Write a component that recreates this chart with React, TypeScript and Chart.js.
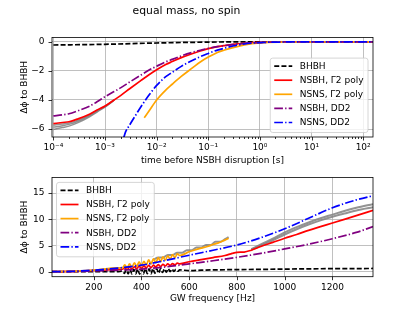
import React, { useEffect, useRef } from 'react';
import { Chart, registerables } from 'chart.js';

Chart.register(...registerables);

const FONT = '"DejaVu Sans", sans-serif';

// ---------- text ----------
const TOP_TITLE = 'equal mass, no spin';
const TOP_X_TITLE = 'time before NSBH disruption [s]';
const BOTTOM_X_TITLE = 'GW frequency [Hz]';
const Y_TITLE = 'Δϕ to BHBH';
const LABELS = ['BHBH', 'NSBH, Γ2 poly', 'NSNS, Γ2 poly', 'NSBH, DD2', 'NSNS, DD2'];
const COLORS = ['#000000', '#ff0000', '#ffa500', '#800080', '#0000ff'];
const GRAY = 'rgba(128,128,128,0.85)';

// ---------- top panel axes ----------
const TOP_X_MIN = 9.4e-5;
const TOP_X_MAX = 155;
const TOP_Y_MIN = -6.55;
const TOP_Y_MAX = 0.3;
const TOP_X_TICKS = [1e-4, 1e-3, 1e-2, 1e-1, 1, 10, 100];
const TOP_X_TICK_LABELS = ['10⁻⁴', '10⁻³', '10⁻²', '10⁻¹', '10⁰', '10¹', '10²'];
const TOP_X_MINOR = [
  2e-4, 3e-4, 4e-4, 5e-4, 6e-4, 7e-4, 8e-4, 9e-4,
  2e-3, 3e-3, 4e-3, 5e-3, 6e-3, 7e-3, 8e-3, 9e-3,
  2e-2, 3e-2, 4e-2, 5e-2, 6e-2, 7e-2, 8e-2, 9e-2,
  0.2, 0.3, 0.4, 0.5, 0.6, 0.7, 0.8, 0.9,
  2, 3, 4, 5, 6, 7, 8, 9,
  20, 30, 40, 50, 60, 70, 80, 90,
];
const TOP_Y_TICKS = [0, -2, -4, -6];

// ---------- top panel data ----------
const T_BHBH = [1e-4, 1e-3, 1e-2, 0.1, 1, 10, 160];
const TOP_BHBH = [-0.22, -0.17, -0.08, -0.02, 0, 0, 0];

const T_MAIN = [1e-4, 1.5e-4, 2e-4, 3e-4, 5e-4, 7e-4, 1e-3, 1.5e-3, 2e-3, 3e-3, 5e-3, 7e-3, 1e-2, 1.5e-2, 2e-2, 3e-2, 5e-2, 7e-2, 0.1, 0.15, 0.2, 0.3, 0.5, 1, 3, 10, 160];
const TOP_NSBH_POLY = [-5.63, -5.55, -5.5, -5.3, -4.98, -4.7, -4.42, -4.0, -3.7, -3.23, -2.65, -2.28, -1.92, -1.56, -1.36, -1.09, -0.8, -0.63, -0.47, -0.33, -0.26, -0.17, -0.1, -0.04, -0.01, 0, 0];
const TOP_NSBH_DD2 = [-5.1, -5.02, -4.95, -4.74, -4.43, -4.13, -3.78, -3.42, -3.17, -2.77, -2.28, -1.96, -1.68, -1.38, -1.21, -0.97, -0.72, -0.58, -0.45, -0.33, -0.27, -0.19, -0.11, -0.05, -0.01, 0, 0];

const T_NSNS_POLY = [5.75e-3, 7e-3, 1e-2, 1.5e-2, 2e-2, 3e-2, 5e-2, 7e-2, 0.1, 0.15, 0.2, 0.3, 0.5, 1, 3, 10, 160];
const TOP_NSNS_POLY = [-5.23, -4.8, -4.0, -3.32, -2.92, -2.38, -1.78, -1.39, -1.05, -0.73, -0.58, -0.4, -0.21, -0.07, -0.02, 0, 0];

const T_NSNS_DD2 = [2.3e-3, 2.5e-3, 3e-3, 4e-3, 5e-3, 7e-3, 1e-2, 1.5e-2, 2e-2, 3e-2, 5e-2, 7e-2, 0.1, 0.15, 0.2, 0.3, 0.5, 1, 3, 10, 160];
const TOP_NSNS_DD2 = [-6.6, -6.2, -5.72, -5.0, -4.45, -3.7, -3.0, -2.4, -2.1, -1.69, -1.27, -1.02, -0.8, -0.57, -0.45, -0.29, -0.15, -0.05, -0.01, 0, 0];

const T_GRAY = [1e-4, 1.5e-4, 2e-4, 3e-4, 5e-4, 7e-4, 1e-3, 1.5e-3];
const TOP_GRAY_1 = [-5.74, -5.66, -5.59, -5.39, -5.04, -4.74, -4.44, -4.0];
const TOP_GRAY_2 = [-5.87, -5.77, -5.68, -5.47, -5.09, -4.78, -4.46, -4.01];
const TOP_GRAY_3 = [-6.03, -5.9, -5.8, -5.56, -5.16, -4.83, -4.49, -4.02];

// ---------- bottom panel axes ----------
const BOT_X_MIN = 25;
const BOT_X_MAX = 1370;
const BOT_Y_MIN = -0.95;
const BOT_Y_MAX = 18;
const BOT_X_TICKS = [200, 400, 600, 800, 1000, 1200];
const BOT_Y_TICKS = [0, 5, 10, 15];

// ---------- bottom panel data ----------
const F_BHBH = [25, 100, 200, 300,
  320, 328, 336, 344, 352, 360, 368, 376, 384, 392, 400, 408, 416, 424, 432, 440,
  448, 456, 464, 472, 480, 488, 496, 504, 512, 520, 528, 536, 544, 552, 560,
  600, 650, 700, 800, 900, 1000, 1100, 1200, 1300, 1370];
const BOT_BHBH = [0, 0, 0, 0.02,
  0.1, -0.3, 0.35, -0.4, 0.4, -0.45, 0.45, -0.4, 0.5, -0.45, 0.55, -0.4, 0.6, -0.35, 0.55, -0.4,
  0.6, -0.3, 0.55, -0.3, 0.6, -0.15, 0.55, -0.1, 0.6, 0.0, 0.5, 0.05, 0.45, 0.1, 0.35,
  0.2, 0.3, 0.35, 0.4, 0.45, 0.5, 0.55, 0.58, 0.6, 0.62];

const F_NSBH_POLY = [25, 100, 200, 300,
  320, 330, 340, 350, 360, 370, 380, 390, 400, 410, 420, 430, 440, 450, 460, 470, 480, 490, 500, 510, 520, 530, 540, 550, 560,
  600, 650, 700, 750, 780, 800, 830, 860, 900, 950, 1000, 1050, 1100, 1150, 1200, 1250, 1300, 1370];
const BOT_NSBH_POLY = [0, 0.05, 0.25, 0.45,
  0.5, 0.8, 0.45, 0.9, 0.55, 0.95, 0.6, 1.05, 0.65, 1.1, 0.75, 1.2, 0.8, 1.25, 0.9, 1.35, 1.0, 1.4, 1.1, 1.5, 1.2, 1.55, 1.3, 1.65, 1.5,
  1.9, 2.3, 2.7, 3.1, 3.5, 3.7, 3.75, 4.1, 4.8, 5.6, 6.4, 7.1, 7.9, 8.6, 9.3, 10.0, 10.7, 11.7];

const F_NSNS_POLY = [25, 100, 200, 300,
  320, 330, 340, 350, 360, 370, 380, 390, 400, 410, 420, 430, 440, 450, 460, 470, 480, 490, 500, 510, 520, 530, 540, 550, 560,
  600, 620, 650, 680, 700, 720, 740, 765];
const BOT_NSNS_POLY = [0, 0.05, 0.3, 0.75,
  0.7, 1.3, 0.75, 1.5, 0.85, 1.7, 1.0, 1.9, 1.1, 2.0, 1.3, 2.25, 1.5, 2.45, 1.7, 2.7, 1.9, 2.85, 2.2, 3.05, 2.4, 3.25, 2.7, 3.4, 3.1,
  3.8, 4.1, 4.5, 4.85, 5.2, 5.45, 5.85, 6.4];

const F_SMOOTH = [25, 100, 200, 300, 400, 500, 600, 700, 800, 900, 1000, 1100, 1200, 1300, 1370];
const BOT_NSBH_DD2 = [0, 0.03, 0.15, 0.3, 0.5, 0.9, 1.5, 2.1, 2.75, 3.5, 4.35, 5.25, 6.3, 7.5, 8.6];
const BOT_NSNS_DD2 = [0, 0.05, 0.3, 0.7, 1.25, 2.15, 3.15, 4.1, 5.1, 6.5, 8.2, 10.2, 12.2, 13.7, 14.5];

const F_GRAY_LOW = [450, 470, 490, 510, 530, 550, 570, 590, 610, 630, 650, 670, 690, 710, 730, 750, 765];
const BOT_GRAY_LOW = [2.3, 2.7, 2.7, 3.2, 3.2, 3.6, 3.6, 4.1, 4.1, 4.6, 4.6, 5.1, 5.1, 5.7, 5.7, 6.2, 6.6];
const F_GRAY_HIGH = [860, 900, 950, 1000, 1050, 1100, 1150, 1200, 1250, 1300, 1370];
const BOT_GRAY_HIGH_1 = [4.3, 5.2, 6.3, 7.5, 8.5, 9.4, 10.2, 10.9, 11.6, 12.2, 12.9];
const BOT_GRAY_HIGH_2 = [4.2, 5.0, 6.0, 7.1, 8.1, 9.0, 9.8, 10.5, 11.1, 11.7, 12.3];

// ---------- helpers ----------
const DASHED = [5, 2.2];
const DASHDOT = [8.7, 2.2, 1.35, 2.2];
const STYLES = [DASHED, [], [], DASHDOT, DASHDOT];
const LINE_W = 1.7;

function pts(xs: number[], ys: number[]) {
  return xs.map((x, i) => ({ x, y: ys[i] }));
}

function series(idx: number, xs: number[], ys: number[], order: number) {
  return {
    label: LABELS[idx],
    data: pts(xs, ys),
    borderColor: COLORS[idx],
    backgroundColor: COLORS[idx],
    borderWidth: LINE_W,
    borderDash: STYLES[idx],
    borderCapStyle: 'butt',
    borderJoinStyle: 'round',
    pointRadius: 0,
    pointHoverRadius: 0,
    fill: false,
    cubicInterpolationMode: 'monotone',
    order,
  };
}

function grayLine(name: string, xs: number[], ys: number[], width: number) {
  return {
    label: name,
    data: pts(xs, ys),
    borderColor: GRAY,
    borderWidth: width,
    pointRadius: 0,
    pointHoverRadius: 0,
    fill: false,
    cubicInterpolationMode: 'monotone',
    order: 10,
  };
}

function fmtNum(v: number) {
  return v < 0 ? '−' + String(Math.abs(v)) : String(v);
}

const tickFont = { family: FONT, size: 9 };

const mplPlugin = {
  id: 'mplFrame',
  afterDatasetsDraw(chart: any, _args: any, opts: any) {
    const { ctx, chartArea: a } = chart;
    const xs = chart.scales.x;
    const ys = chart.scales.y;
    ctx.save();
    ctx.strokeStyle = '#000';
    ctx.lineWidth = 0.8;
    ctx.setLineDash([]);
    ctx.beginPath();
    (opts.xMajor || []).forEach((v: number) => {
      const p = Math.round(xs.getPixelForValue(v)) + 0.5;
      ctx.moveTo(p, a.bottom);
      ctx.lineTo(p, a.bottom + 3.5);
    });
    (opts.xMinor || []).forEach((v: number) => {
      const p = Math.round(xs.getPixelForValue(v)) + 0.5;
      ctx.moveTo(p, a.bottom);
      ctx.lineTo(p, a.bottom + 2);
    });
    (opts.yMajor || []).forEach((v: number) => {
      const p = Math.round(ys.getPixelForValue(v)) + 0.5;
      ctx.moveTo(a.left, p);
      ctx.lineTo(a.left - 3.5, p);
    });
    ctx.stroke();
    ctx.strokeRect(a.left, a.top, a.right - a.left, a.bottom - a.top);

    // legend
    const items = chart.data.datasets.filter((d: any) => !String(d.label).startsWith('_'));
    items.sort((p: any, q: any) => LABELS.indexOf(p.label) - LABELS.indexOf(q.label));
    ctx.font = `9px ${FONT}`;
    const textW = Math.max(...items.map((d: any) => ctx.measureText(d.label).width));
    const padL = 4, handleLen = 18, gap = 7.5, padR = 4.5, padT = 8, spacing = 14.1, padB = 10;
    const w = padL + handleLen + gap + textW + padR;
    const h = padT + spacing * (items.length - 1) + padB;
    let x0: number, y0: number;
    if (opts.legend === 'lr') {
      x0 = a.right - 5 - w;
      y0 = a.bottom - 4.5 - h;
    } else {
      x0 = a.left + 4.5;
      y0 = a.top + 5;
    }
    ctx.beginPath();
    if (ctx.roundRect) ctx.roundRect(x0, y0, w, h, 2.5);
    else ctx.rect(x0, y0, w, h);
    ctx.fillStyle = 'rgba(255,255,255,0.8)';
    ctx.fill();
    ctx.strokeStyle = '#cccccc';
    ctx.lineWidth = 0.8;
    ctx.stroke();
    items.forEach((d: any, i: number) => {
      const y = y0 + padT + i * spacing;
      ctx.beginPath();
      ctx.strokeStyle = d.borderColor;
      ctx.lineWidth = d.borderWidth;
      ctx.lineCap = 'butt';
      ctx.setLineDash(d.borderDash || []);
      ctx.moveTo(x0 + padL, y);
      ctx.lineTo(x0 + padL + handleLen, y);
      ctx.stroke();
      ctx.setLineDash([]);
      ctx.fillStyle = '#000';
      ctx.textBaseline = 'middle';
      ctx.textAlign = 'left';
      ctx.fillText(d.label, x0 + padL + handleLen + gap, y + 0.5);
    });
    ctx.restore();
  },
};

function gridOpts() {
  return {
    color: '#b0b0b0',
    lineWidth: 0.8,
    drawTicks: true,
    tickLength: 3.5,
    tickColor: 'rgba(0,0,0,0)',
  };
}

function TopChart() {
  const ref = useRef<HTMLCanvasElement | null>(null);
  useEffect(() => {
    if (!ref.current) return;
    const chart = new Chart(ref.current, {
      type: 'line',
      data: {
        datasets: [
          grayLine('_g1', T_GRAY, TOP_GRAY_1, 1.5),
          grayLine('_g2', T_GRAY, TOP_GRAY_2, 1.5),
          grayLine('_g3', T_GRAY, TOP_GRAY_3, 1.5),
          series(0, T_BHBH, TOP_BHBH, 5),
          series(1, T_MAIN, TOP_NSBH_POLY, 4),
          series(2, T_NSNS_POLY, TOP_NSNS_POLY, 3),
          series(3, T_MAIN, TOP_NSBH_DD2, 2),
          series(4, T_NSNS_DD2, TOP_NSNS_DD2, 1),
        ] as any,
      },
      options: {
        responsive: false,
        animation: false,
        events: [],
        layout: { padding: { left: 0, right: 42, top: 0, bottom: 0 } },
        scales: {
          x: {
            type: 'logarithmic',
            min: TOP_X_MIN,
            max: TOP_X_MAX,
            afterBuildTicks: (s: any) => {
              s.ticks = TOP_X_TICKS.map((v) => ({ value: v, major: true }));
            },
            afterFit: (s: any) => {
              s.height = 31;
            },
            ticks: {
              autoSkip: false,
              maxRotation: 0,
              minRotation: 0,
              padding: 2,
              color: '#000',
              font: tickFont,
              callback: (_v: any, i: number) => TOP_X_TICK_LABELS[i],
            },
            grid: gridOpts(),
            border: { display: false },
            title: { display: true, text: TOP_X_TITLE, color: '#000', font: tickFont, padding: { top: 0, bottom: 1.9 } },
          },
          y: {
            type: 'linear',
            min: TOP_Y_MIN,
            max: TOP_Y_MAX,
            afterBuildTicks: (s: any) => {
              s.ticks = TOP_Y_TICKS.map((v) => ({ value: v }));
            },
            afterFit: (s: any) => {
              s.width = 52;
            },
            ticks: { padding: 4, color: '#000', font: tickFont, callback: (v: any) => fmtNum(Number(v)) },
            grid: gridOpts(),
            border: { display: false },
            title: { display: true, text: Y_TITLE, color: '#000', font: tickFont, padding: { top: 19.6, bottom: 0 } },
          },
        },
        plugins: {
          legend: { display: false },
          tooltip: { enabled: false },
          title: {
            display: true,
            text: TOP_TITLE,
            color: '#000',
            font: { family: FONT, size: 10.8, weight: 'normal' },
            padding: { top: 4.5, bottom: 20 },
          },
          mplFrame: { xMajor: TOP_X_TICKS, xMinor: TOP_X_MINOR, yMajor: TOP_Y_TICKS, legend: 'lr' },
        } as any,
      } as any,
      plugins: [mplPlugin],
    });
    return () => chart.destroy();
  }, []);
  return <canvas ref={ref} width={415} height={168} style={{ display: 'block', width: 415, height: 168 }} />;
}

function BottomChart() {
  const ref = useRef<HTMLCanvasElement | null>(null);
  useEffect(() => {
    if (!ref.current) return;
    const chart = new Chart(ref.current, {
      type: 'line',
      data: {
        datasets: [
          grayLine('_g1', F_GRAY_LOW, BOT_GRAY_LOW, 2),
          grayLine('_g2', F_GRAY_HIGH, BOT_GRAY_HIGH_1, 2),
          grayLine('_g3', F_GRAY_HIGH, BOT_GRAY_HIGH_2, 2),
          series(0, F_BHBH, BOT_BHBH, 5),
          series(1, F_NSBH_POLY, BOT_NSBH_POLY, 4),
          series(2, F_NSNS_POLY, BOT_NSNS_POLY, 3),
          series(3, F_SMOOTH, BOT_NSBH_DD2, 2),
          series(4, F_SMOOTH, BOT_NSNS_DD2, 1),
        ] as any,
      },
      options: {
        responsive: false,
        animation: false,
        events: [],
        layout: { padding: { left: 0, right: 42, top: 8.7, bottom: 0 } },
        scales: {
          x: {
            type: 'linear',
            min: BOT_X_MIN,
            max: BOT_X_MAX,
            afterBuildTicks: (s: any) => {
              s.ticks = BOT_X_TICKS.map((v) => ({ value: v }));
            },
            afterFit: (s: any) => {
              s.height = 34.3;
            },
            ticks: {
              autoSkip: false,
              maxRotation: 0,
              minRotation: 0,
              padding: 2,
              color: '#000',
              font: tickFont,
              callback: (v: any) => fmtNum(Number(v)),
            },
            grid: gridOpts(),
            border: { display: false },
            title: { display: true, text: BOTTOM_X_TITLE, color: '#000', font: tickFont, padding: { top: 0, bottom: 6.6 } },
          },
          y: {
            type: 'linear',
            min: BOT_Y_MIN,
            max: BOT_Y_MAX,
            afterBuildTicks: (s: any) => {
              s.ticks = BOT_Y_TICKS.map((v) => ({ value: v }));
            },
            afterFit: (s: any) => {
              s.width = 52;
            },
            ticks: { padding: 4, color: '#000', font: tickFont, callback: (v: any) => fmtNum(Number(v)) },
            grid: gridOpts(),
            border: { display: false },
            title: { display: true, text: Y_TITLE, color: '#000', font: tickFont, padding: { top: 19.6, bottom: 0 } },
          },
        },
        plugins: {
          legend: { display: false },
          tooltip: { enabled: false },
          mplFrame: { xMajor: BOT_X_TICKS, yMajor: BOT_Y_TICKS, legend: 'ul' },
        } as any,
      } as any,
      plugins: [mplPlugin],
    });
    return () => chart.destroy();
  }, []);
  return <canvas ref={ref} width={415} height={143} style={{ display: 'block', width: 415, height: 143 }} />;
}

export default function App() {
  return (
    <div style={{ position: 'absolute', left: 0, top: 0, width: 415, height: 311, background: '#fff' }}>
      <TopChart />
      <BottomChart />
    </div>
  );
}
